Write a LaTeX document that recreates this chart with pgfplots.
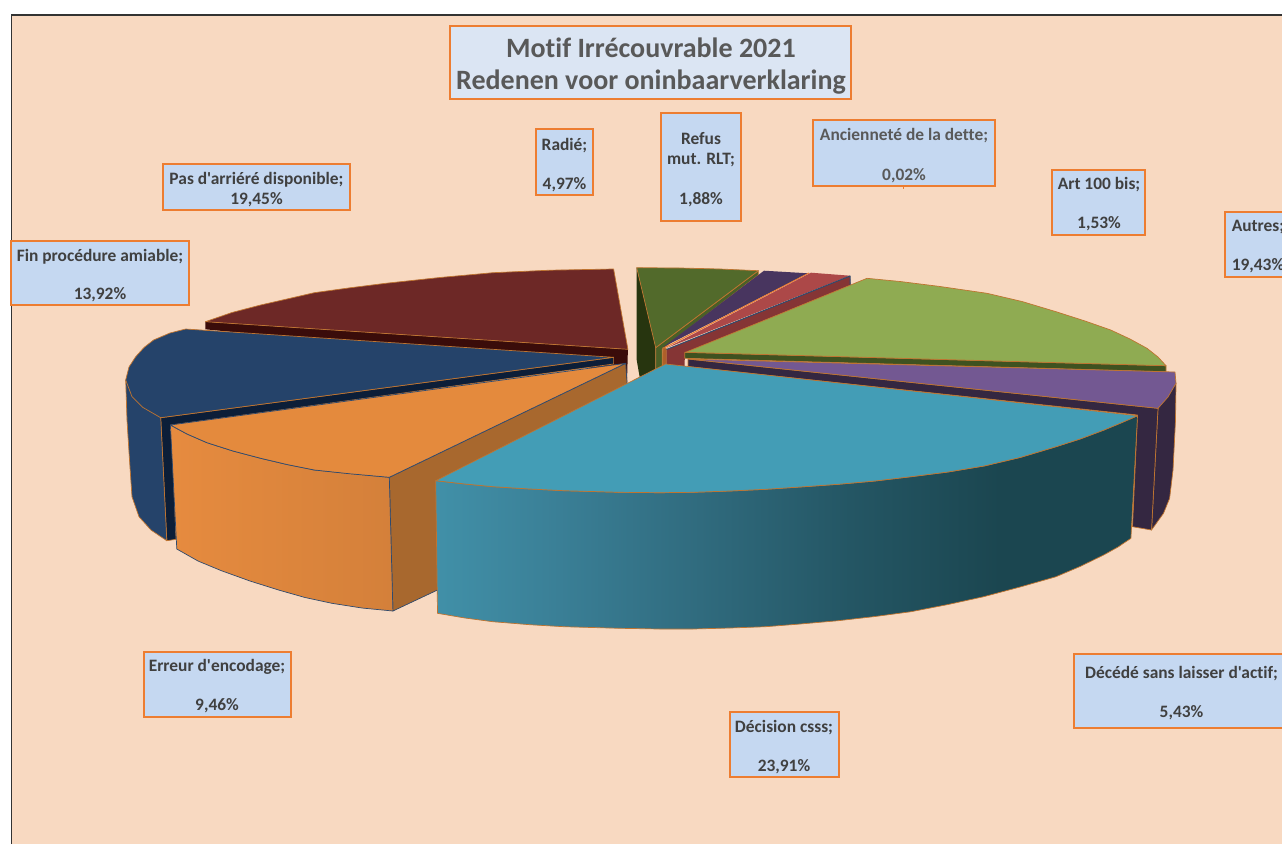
\documentclass[border=0pt]{standalone}
\usepackage{pgfplots}
\pgfplotsset{compat=1.18}
\usepackage{fontspec}
\setmainfont{Carlito}[Ligatures={TeXOff,NoCommon}]

\definecolor{peach}{HTML}{F8D9C1}
\definecolor{boxfill}{HTML}{C5D8F1}
\definecolor{titlefill}{HTML}{DBE5F3}
\definecolor{boxline}{HTML}{ED7D31}
\definecolor{edgeo}{HTML}{BF7430}
\definecolor{edgeb}{HTML}{2F4A6E}
\definecolor{labeltxt}{HTML}{404040}
\definecolor{tealA}{HTML}{4190A8}
\definecolor{tealB}{HTML}{3A7F96}
\definecolor{tealC}{HTML}{306B7E}
\definecolor{tealD}{HTML}{245664}
\definecolor{tealE}{HTML}{1B4650}
\definecolor{orA}{HTML}{E68B3F}
\definecolor{orB}{HTML}{D4803A}

% stops from 25bp to 75bp span the bounding box of the filled path
\pgfdeclarehorizontalshading{tealwall}{100bp}{
  color(0bp)=(tealA); color(25bp)=(tealA); color(33.8bp)=(tealB);
  color(43.8bp)=(tealC); color(54.5bp)=(tealD); color(65.2bp)=(tealE);
  color(100bp)=(tealE)}
\pgfdeclarehorizontalshading{orangewall}{100bp}{
  color(0bp)=(orA); color(25bp)=(orA); color(75bp)=(orB); color(100bp)=(orB)}

\newcommand{\labbox}[5][]{\draw[boxline, line width=2pt, fill=boxfill, #1] (axis cs:#2,#3) rectangle (axis cs:#4,#5);}
\newcommand{\labtxt}[4][]{\node[text=labeltxt, font=\fontsize{17.4}{17.4}\selectfont\bfseries, inner sep=0pt, yshift=-1pt, #1] at (axis cs:#2,#3) {#4};}

\begin{document}
\begin{tikzpicture}
\begin{axis}[
    width=1282pt, height=844pt, scale only axis,
    xmin=0, xmax=1282, ymin=0, ymax=844,
    y dir=reverse,
    hide axis,
    clip=true,
    pie/.style={no markers, line width=0.7pt, line join=round},
]

% white page and peach chart area
\path[fill=white] (axis cs:0,0) rectangle (axis cs:1282,844);
\addplot[fill=peach, draw=none, no markers] coordinates {(11.5,15) (1282,15) (1282,844) (11.5,844)} --cycle;
\addplot[draw=black!80, line width=1.4pt, no markers] coordinates {(11.5,844) (11.5,15) (1282,15)};

% Radie, dark green
\addplot[pie, fill={rgb,255:red,39;green,53;blue,15}, draw=none] coordinates {
  (636.7,267.7) (655.7,347.7) (655.7,372) (640,379) (636.7,360)} --cycle;
\addplot[pie, fill={rgb,255:red,74;green,96;blue,39}, draw=edgeo] coordinates {
  (758.3,270.7) (758.3,275) (662.3,349) (662.3,372) (655.7,372) (655.7,347.7)} --cycle;
\addplot[pie, fill={rgb,255:red,82;green,106;blue,43}, draw=edgeo] coordinates {
  (636.7,267.7) (680,268) (720,269) (758.3,270.7) (655.7,347.7)} --cycle;

% Refus mut. RLT, dark purple
\addplot[pie, fill={rgb,255:red,174;green,95;blue,42}, draw=edgeo] coordinates {
  (663,347.5) (666.7,349) (666.7,372) (662.3,372)} --cycle;
\addplot[pie, fill={rgb,255:red,72;green,53;blue,95}, draw=none] coordinates {
  (764,270.7) (808.3,273.3) (663.3,347)} --cycle;
\addplot[pie, draw=boxline, line width=1pt] coordinates {(809,273) (665,347.5)};

% Art 100 bis, red
\addplot[pie, fill={rgb,255:red,133;green,53;blue,53}, draw=none] coordinates {
  (666.5,349.5) (850,276) (850.7,285) (685,352.7) (684.3,372) (666.7,372)} --cycle;
\addplot[pie, fill={rgb,255:red,172;green,72;blue,72}, draw=none] coordinates {
  (666.5,348) (811,272.7) (850,275.7)} --cycle;
\addplot[pie, draw=edgeb, line width=1pt] coordinates {(666.5,349.5) (850,276) (850,285)};

% Autres, light green
\addplot[pie, fill={rgb,255:red,63;green,82;blue,32}, draw=edgeo] coordinates {
  (684.7,352.3) (1166,365.7) (1166,371.7) (684.7,358.3)} --cycle;
\addplot[pie, fill={rgb,255:red,143;green,171;blue,82}, draw=edgeo] coordinates {
  (685.5,352.3) (775,316) (867,278.3) (900,281.5) (940,286.5) (987,293.3) (1022,301.5) (1056,311.7)
  (1085,321) (1110.7,330) (1130,339) (1147,348.3) (1158,357) (1166,365.7)} --cycle;

% Decede sans laisser d'actif, purple
\addplot[pie, fill={rgb,255:red,52;green,39;blue,65}, draw=edgeo] coordinates {
  (1158,408.3) (1176,383.3) (1175.5,420) (1173,470) (1169.6,498.3) (1163.5,513.3) (1151.5,530)} --cycle;
\addplot[pie, fill={rgb,255:red,52;green,39;blue,65}, draw=edgeo] coordinates {
  (688,359) (1158,408.3) (1151.5,530) (1132.5,526.7) (1137.5,415) (688,366.7)} --cycle;
\addplot[pie, fill={rgb,255:red,115;green,88;blue,146}, draw=edgeo] coordinates {
  (688,359) (696.4,359.3) (1175,372) (1176,383.3) (1168,397) (1158,408.3)} --cycle;

% Pas d'arriere disponible, maroon
\addplot[pie, fill={rgb,255:red,58;green,12;blue,10}, draw=none] coordinates {
  (205.4,321.7) (627.9,349.3) (627,382) (613.6,370) (205.4,329.3)} --cycle;
\addplot[pie, fill={rgb,255:red,109;green,40;blue,38}, draw=edgeo] coordinates {
  (205.4,321.7) (232,312.5) (260.7,305) (287,299) (314.3,292.7) (350,287.8) (385.7,283.3) (440,277.5)
  (492.9,272.7) (550,270.2) (613.6,269) (627.9,349.3)} --cycle;

% Fin procedure amiable, blue
\addplot[pie, fill={rgb,255:red,12;green,30;blue,56}, draw=edgeo] coordinates {
  (160.7,417.7) (613.6,357.3) (613.6,364) (171.4,425) (176,539.3) (166.8,540.7)} --cycle;
\addplot[pie, fill={rgb,255:red,37;green,67;blue,106}, draw=edgeo] coordinates {
  (125.7,380) (127,420) (129.5,460) (132,496.7) (139,516.7) (151,530) (166.8,540.7) (160.7,417.7)} --cycle;
\addplot[pie, fill={rgb,255:red,37;green,67;blue,106}, draw=edgeo] coordinates {
  (185.7,329) (613.6,357.3) (160.7,417.7) (143,407.5) (132,396.7) (125.7,380) (129,367) (135.7,356.7)
  (144,347.5) (153.6,340) (170,333)} --cycle;

% Erreur d'encodage, orange
\addplot[pie, fill={rgb,255:red,168;green,104;blue,46}, draw=edgeb] coordinates {
  (389.3,477.3) (625.7,363.3) (627,382) (627,400) (437.5,590) (392.9,611)} --cycle;
\addplot[pie, shade, shading=orangewall, draw=edgeb] coordinates {
  (170.4,425) (176.8,549) (198,561) (221.4,570.7) (250,581) (278.6,590) (305,597.5) (332,603.3)
  (362,608) (392.9,611) (389.3,477.3) (350,473.5) (314.3,470) (287,464.5) (260.7,458.3) (233,451) (207,442.7)
  (187,434)} --cycle;
\addplot[pie, fill={rgb,255:red,228;green,138;blue,61}, draw=edgeb] coordinates {
  (625.7,363.3) (170.4,425) (187,434) (207,442.7) (233,451) (260.7,458.3) (287,464.5) (314.3,470)
  (350,473.8) (389.3,477.3)} --cycle;

% Decision csss, teal
\addplot[pie, shade, shading=tealwall, draw=edgeo] coordinates {
  (435.7,480.7) (437.5,613.3) (465,618) (492.9,621.7) (530,624.7) (564,626.7) (620,628.3) (660,629) (692.7,629)
  (730,628) (765.5,626.7) (800,624) (838,620.7) (875,616.5) (911,611.7) (948,604.5) (983.6,596.7)
  (1020,587) (1056,576.7) (1080,566.5) (1103.6,555) (1118,547) (1130.9,538.3) (1137.5,415.7)
  (1122,422.5) (1104,430) (1080,439) (1056,446.7) (1020,457.5) (984,466) (948,472) (911,476.7)
  (875,481) (838,484.3) (800,487) (765.5,489.3) (730,491) (693,492.3) (660,492.7) (620,492.3)
  (564,490.7) (530,489) (493,486.7) (465,484)} --cycle;
\addplot[pie, fill={rgb,255:red,67;green,157;blue,182}, draw=edgeo] coordinates {
  (665.5,364) (1137.5,415.7) (1122,422.5) (1104,430) (1080,439) (1056,446.7) (1020,457.5) (984,466) (948,472)
  (911,476.7) (875,481) (838,484.3) (800,487) (765.5,489.3) (730,491) (693,492.3) (660,492.7) (620,492.3)
  (564,490.7) (530,489) (493,486.7) (465,484) (435.7,480.7)} --cycle;

% title
\draw[boxline, line width=2pt, fill=titlefill] (axis cs:450.2,26) rectangle (axis cs:850.5,99.3);
\node[text=black!65, font=\fontsize{28}{28}\selectfont\bfseries, inner sep=0pt] at (axis cs:651,47.5) {Motif Irrécouvrable 2021};
\node[text=black!65, font=\fontsize{28}{28}\selectfont\bfseries, inner sep=0pt] at (axis cs:651,82.5) {Redenen voor oninbaarverklaring};

% data labels
\labbox{163.3}{164.3}{349.8}{210.3}
\labtxt{256.5}{179}{Pas d'arriéré disponible;}
\labtxt{256.5}{199}{19,45\%}

\labbox{536}{129.3}{592.7}{195.3}
\labtxt{564.5}{144.3}{Radié;}
\labtxt{564.5}{183.7}{4,97\%}

\labbox{11}{241}{189}{305}
\labtxt{100}{255.7}{Fin procédure amiable;}
\labtxt{100}{293.7}{13,92\%}

\labbox{661.3}{113.3}{741}{221}
\labtxt{701}{138}{Refus}
\labtxt{701}{158.7}{mut. RLT;}
\labtxt{701}{198.7}{1,88\%}

\labbox{813.2}{120}{994.6}{186}
\draw[boxline, line width=1pt] (axis cs:903.5,186) -- (axis cs:903.5,189);
\labtxt[text=black!65]{904}{135}{Ancienneté de la dette;}
\labtxt[text=black!65]{904}{174.3}{0,02\%}

\labbox{1052.4}{169.7}{1145}{235.3}
\labtxt{1099}{184}{Art 100 bis;}
\labtxt{1099}{223}{1,53\%}

\labbox[overlay]{1225.3}{211.7}{1291}{276.7}
\labtxt[overlay]{1258}{226}{Autres;}
\labtxt[overlay]{1258}{264.7}{19,43\%}

\labbox{143.7}{651.7}{291}{717}
\labtxt{217}{666}{Erreur d'encodage;}
\labtxt{217}{705}{9,46\%}

\labbox{729.7}{712.3}{838.5}{777.3}
\labtxt{784}{726.7}{Décision csss;}
\labtxt{784}{766}{23,91\%}

\labbox[overlay]{1073.8}{654}{1289}{727.7}
\labtxt[overlay]{1181.5}{672.7}{Décédé sans laisser d'actif;}
\labtxt[overlay]{1181.5}{711.7}{5,43\%}

\end{axis}
\end{tikzpicture}
\end{document}
